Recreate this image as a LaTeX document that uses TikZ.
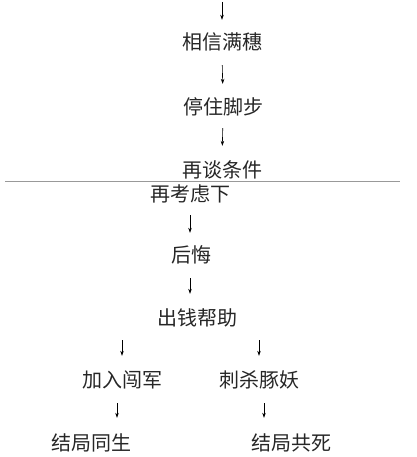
\documentclass[tikz,border=0pt]{standalone}
\usepackage{fontspec}
\usepackage{tikz}
\usetikzlibrary{arrows.meta,positioning,calc}
\newfontfamily\cjk{Noto Sans CJK SC}

\tikzset{
    plot/.style={font=\cjk\fontsize{20}{24}\selectfont, text=black!85, inner sep=0pt, text height=17pt, text depth=3pt},
    arr/.style={-{Stealth[length=5pt,width=3.5pt]}, line width=0.6pt, shorten <=12pt, shorten >=14pt}
}

\begin{document}
\begin{tikzpicture}[x=1pt, y=-1pt]
                        \useasboundingbox (0, 0) rectangle (416, 457);

                        \coordinate (start) at (222, 2);
                        \node[plot] (xiangxin) at (222, 43) {相信满穗};
                        \node[plot] (tingzhu) at (223, 108) {停住脚步};
                        \node[plot] (zaitan) at (222, 170) {再谈条件};
                        \node[plot] (kaolv) at (190, 194) {再考虑下};
                        \node[plot] (houhui) at (191, 255) {后悔};
                        \node[plot] (chuqian) at (197, 318) {出钱帮助};
                        \node[plot] (jiaru) at (122, 380) {加入闯军};
                        \node[plot] (cisha) at (259, 380) {刺杀豚妖};
                        \node[plot] (tongsheng) at (91, 443) {结局同生};
                        \node[plot] (gongsi) at (291, 443) {结局共死};

                        \draw[black!40, line width=0.5pt] (5, 181) -- (400, 181);

                        \draw[arr, shorten <=0pt, shorten >=13pt] (start) -- (xiangxin.north);
                        \draw[arr] (xiangxin.south) -- (tingzhu.north);
                        \draw[arr, shorten <=10pt] (tingzhu.south) -- (zaitan.north);
                        \draw[arr, shorten <=11pt, shorten >=12pt] (kaolv.south) -- (kaolv.south |- houhui.north);
                        \draw[arr, shorten <=13pt] ([xshift=-1pt]houhui.south) -- ([xshift=-1pt]houhui.south |- chuqian.north);
                        \draw[arr] (chuqian.south -| jiaru) -- (jiaru.north);
                        \draw[arr] (chuqian.south -| cisha) -- (cisha.north);
                        \draw[arr, shorten <=13pt, shorten >=15pt] ([xshift=-5pt]jiaru.south) -- ([xshift=-5pt]jiaru.south |- tongsheng.north);
                        \draw[arr, shorten <=13pt, shorten >=15pt] ([xshift=5pt]cisha.south) -- ([xshift=5pt]cisha.south |- gongsi.north);
                    \end{tikzpicture}
\end{document}
